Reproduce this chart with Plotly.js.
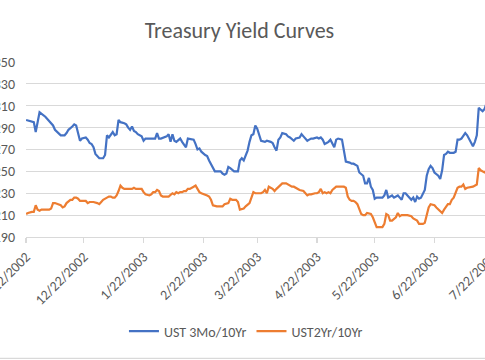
<!DOCTYPE html>
<html>
<head>
<meta charset="utf-8">
<script src="https://cdn.plot.ly/plotly-3.0.1.min.js"></script>
<style>
html, body { margin: 0; padding: 0; overflow: hidden; background: #fff; }
#chart { width: 520px; height: 360px; }
</style>
</head>
<body>
<div id="chart"></div>
<script>
const chartTitle = "Treasury Yield Curves";
const seriesNames = ["UST 3Mo/10Yr", "UST2Yr/10Yr"];

const blueDates = [
"2002-11-22","2002-11-25","2002-11-26","2002-11-27","2002-11-28","2002-11-29","2002-12-02","2002-12-04","2002-12-06","2002-12-07",
"2002-12-09","2002-12-10","2002-12-11","2002-12-12","2002-12-13","2002-12-14","2002-12-16","2002-12-17","2002-12-18","2002-12-19",
"2002-12-20","2002-12-21","2002-12-23","2002-12-24","2002-12-25","2002-12-26","2002-12-27","2002-12-28","2002-12-29","2002-12-30",
"2002-12-31","2003-01-01","2003-01-02","2003-01-03","2003-01-04","2003-01-05","2003-01-06","2003-01-07","2003-01-08","2003-01-09",
"2003-01-10","2003-01-12","2003-01-13","2003-01-14","2003-01-15","2003-01-16","2003-01-17","2003-01-18","2003-01-19","2003-01-21",
"2003-01-22","2003-01-23","2003-01-24","2003-01-27","2003-01-28","2003-01-29","2003-01-30","2003-01-31","2003-02-02","2003-02-03",
"2003-02-04","2003-02-05","2003-02-06","2003-02-07","2003-02-08","2003-02-09","2003-02-10","2003-02-11","2003-02-13","2003-02-14",
"2003-02-16","2003-02-17","2003-02-18","2003-02-19","2003-02-20","2003-02-21","2003-02-23","2003-02-24","2003-02-25","2003-02-26",
"2003-02-27","2003-02-28","2003-03-02","2003-03-03","2003-03-04","2003-03-05","2003-03-06","2003-03-07","2003-03-08","2003-03-09",
"2003-03-10","2003-03-11","2003-03-12","2003-03-13","2003-03-14","2003-03-15","2003-03-16","2003-03-17","2003-03-18","2003-03-19",
"2003-03-20","2003-03-21","2003-03-22","2003-03-23","2003-03-24","2003-03-26","2003-03-27","2003-03-29","2003-03-30","2003-03-31",
"2003-04-01","2003-04-02","2003-04-03","2003-04-04","2003-04-06","2003-04-07","2003-04-08","2003-04-10","2003-04-11","2003-04-13",
"2003-04-14","2003-04-15","2003-04-17","2003-04-18","2003-04-19","2003-04-20","2003-04-22","2003-04-23","2003-04-24","2003-04-25",
"2003-04-26","2003-04-27","2003-04-28","2003-04-29","2003-04-30","2003-05-01","2003-05-02","2003-05-03","2003-05-05","2003-05-06",
"2003-05-07","2003-05-09","2003-05-10","2003-05-11","2003-05-13","2003-05-14","2003-05-15","2003-05-16","2003-05-17","2003-05-18",
"2003-05-19","2003-05-20","2003-05-21","2003-05-22","2003-05-23","2003-05-25","2003-05-26","2003-05-27","2003-05-28","2003-05-29",
"2003-05-30","2003-05-31","2003-06-01","2003-06-03","2003-06-04","2003-06-05","2003-06-06","2003-06-07","2003-06-08","2003-06-09",
"2003-06-10","2003-06-11","2003-06-12","2003-06-13","2003-06-14","2003-06-15","2003-06-16","2003-06-17","2003-06-18","2003-06-19",
"2003-06-20","2003-06-21","2003-06-22","2003-06-24","2003-06-25","2003-06-26","2003-06-27","2003-06-28","2003-06-29","2003-06-30",
"2003-07-02","2003-07-03","2003-07-04","2003-07-05","2003-07-06","2003-07-07","2003-07-08","2003-07-09","2003-07-10","2003-07-11",
"2003-07-12","2003-07-13","2003-07-14","2003-07-15","2003-07-16","2003-07-17","2003-07-18","2003-07-19"
];
const blueValues = [
297,296,295,286,294,304,300,296,292,288,
284,283,283,283,285,288,291,293,292,284,
278,280,281,279,276,275,272,266,264,262,
262,262,265,283,281,284,286,283,284,297,
295,294,293,290,288,291,287,286,284,282,
278,280,280,280,280,285,280,280,281,282,
284,277,284,278,277,279,280,277,272,280,
279,279,275,270,271,268,265,264,260,257,
253,250,250,250,248,247,248,254,253,251,
250,250,250,260,262,260,265,269,277,283,
284,292,289,283,278,277,278,277,276,272,
269,279,281,285,284,282,281,278,280,281,
284,282,278,279,280,280,281,280,281,279,
275,276,277,279,276,272,279,280,279,269,
259,258,257,257,255,249,247,246,239,239,
244,236,233,225,226,226,226,228,233,226,
227,228,226,228,226,224,230,230,228,226,
224,226,222,227,225,226,229,233,246,252,
255,253,249,246,243,251,265,266,268,267,
267,268,279,279,280,282,285,283,280,277,
273,277,283,308,306,305,307,312
];

const orangeDates = [
"2002-11-22","2002-11-23","2002-11-25","2002-11-26","2002-11-27","2002-11-28","2002-11-29","2002-11-30","2002-12-02","2002-12-03",
"2002-12-04","2002-12-05","2002-12-06","2002-12-07","2002-12-09","2002-12-10","2002-12-11","2002-12-12","2002-12-13","2002-12-14",
"2002-12-15","2002-12-16","2002-12-17","2002-12-18","2002-12-19","2002-12-20","2002-12-21","2002-12-23","2002-12-24","2002-12-25",
"2002-12-26","2002-12-27","2002-12-29","2002-12-30","2002-12-31","2003-01-01","2003-01-03","2003-01-04","2003-01-05","2003-01-06",
"2003-01-07","2003-01-08","2003-01-09","2003-01-10","2003-01-11","2003-01-12","2003-01-14","2003-01-15","2003-01-16","2003-01-17",
"2003-01-18","2003-01-20","2003-01-21","2003-01-22","2003-01-23","2003-01-25","2003-01-26","2003-01-27","2003-01-28","2003-01-29",
"2003-01-30","2003-01-31","2003-02-01","2003-02-03","2003-02-04","2003-02-06","2003-02-07","2003-02-08","2003-02-09","2003-02-10",
"2003-02-11","2003-02-12","2003-02-13","2003-02-14","2003-02-15","2003-02-17","2003-02-18","2003-02-19","2003-02-20","2003-02-21",
"2003-02-23","2003-02-24","2003-02-25","2003-02-26","2003-02-27","2003-03-01","2003-03-03","2003-03-04","2003-03-05","2003-03-07",
"2003-03-08","2003-03-09","2003-03-11","2003-03-12","2003-03-13","2003-03-15","2003-03-16","2003-03-17","2003-03-18","2003-03-19",
"2003-03-20","2003-03-21","2003-03-23","2003-03-24","2003-03-25","2003-03-26","2003-03-27","2003-03-28","2003-03-30","2003-03-31",
"2003-04-01","2003-04-02","2003-04-03","2003-04-04","2003-04-06","2003-04-07","2003-04-09","2003-04-10","2003-04-11","2003-04-12",
"2003-04-13","2003-04-15","2003-04-16","2003-04-17","2003-04-18","2003-04-19","2003-04-21","2003-04-22","2003-04-23","2003-04-24",
"2003-04-25","2003-04-26","2003-04-27","2003-04-28","2003-04-29","2003-04-30","2003-05-02","2003-05-03","2003-05-04","2003-05-06",
"2003-05-07","2003-05-08","2003-05-09","2003-05-10","2003-05-11","2003-05-12","2003-05-13","2003-05-14","2003-05-15","2003-05-16",
"2003-05-17","2003-05-18","2003-05-20","2003-05-21","2003-05-22","2003-05-23","2003-05-24","2003-05-25","2003-05-26","2003-05-27",
"2003-05-28","2003-05-29","2003-05-30","2003-05-31","2003-06-01","2003-06-02","2003-06-03","2003-06-04","2003-06-05","2003-06-06",
"2003-06-08","2003-06-10","2003-06-11","2003-06-13","2003-06-14","2003-06-15","2003-06-16","2003-06-17","2003-06-18","2003-06-19",
"2003-06-20","2003-06-22","2003-06-23","2003-06-25","2003-06-26","2003-06-27","2003-06-28","2003-06-29","2003-06-30","2003-07-01",
"2003-07-02","2003-07-03","2003-07-04","2003-07-05","2003-07-06","2003-07-07","2003-07-08","2003-07-09","2003-07-11","2003-07-12",
"2003-07-14","2003-07-15","2003-07-16","2003-07-17","2003-07-18","2003-07-19"
];
const orangeValues = [
211,212,213,213,219,215,214,215,215,215,
215,216,221,221,220,219,217,218,221,223,
224,224,226,226,225,223,223,223,221,222,
222,222,221,220,222,224,226,227,227,226,
226,228,232,237,235,234,234,234,234,235,
234,234,234,231,229,228,229,231,231,233,
232,228,227,227,227,230,229,231,230,231,
231,232,232,234,234,236,237,234,231,230,
229,228,227,224,219,218,218,218,220,221,
225,224,224,222,215,216,218,220,221,226,
231,230,230,230,231,233,230,236,234,232,
234,236,238,239,239,238,236,236,235,234,
233,232,230,228,229,229,230,230,231,234,
230,231,230,231,230,233,236,236,236,236,
235,227,224,223,223,222,220,215,211,210,
210,212,211,208,203,199,199,199,199,202,
211,210,205,205,207,208,212,209,210,210,
210,209,207,205,202,202,202,203,209,217,
220,219,217,214,212,215,218,220,220,224,
226,230,235,236,236,238,234,235,236,236,
238,253,251,250,249,251
];

const yTicks = [190, 210, 230, 250, 270, 290, 310, 330, 350];
const xTickStart = "2002-11-22";
const xRange = ["2002-11-21 23:00", "2003-07-25"];

const font = "Carlito, Calibri, Lato, 'Open Sans', sans-serif";
const textColor = "#595959";
const gridColor = "#D9D9D9";

const traces = [
  { x: blueDates, y: blueValues, name: seriesNames[0], type: "scatter", mode: "lines",
    line: { color: "#4472C4", width: 2.2 } },
  { x: orangeDates, y: orangeValues, name: seriesNames[1], type: "scatter", mode: "lines",
    line: { color: "#ED7D31", width: 2.2 } }
];

const layout = {
  width: 520, height: 360,
  margin: { l: 26, r: 22, t: 62, b: 123 },
  paper_bgcolor: "#fff", plot_bgcolor: "#fff",
  font: { family: font, color: textColor, size: 14 },
  title: { text: chartTitle, font: { family: font, size: 22, color: textColor },
           xref: "container", x: 0.4605, xanchor: "center", yref: "container", y: 0.915, yanchor: "middle" },
  showlegend: true,
  legend: { orientation: "h", x: 0.466, xanchor: "center", y: -0.54, yanchor: "middle",
            font: { family: font, size: 14, color: textColor }, bgcolor: "rgba(0,0,0,0)" },
  xaxis: {
    type: "date", range: xRange, tick0: xTickStart, dtick: "M1", tickformat: "%-m/%-d/%Y",
    tickangle: -45, showgrid: false, showline: true, linecolor: gridColor, linewidth: 1.2,
    ticks: "outside", ticklen: 5, tickcolor: gridColor, tickwidth: 1.2, ticklabeloverflow: "allow",
    tickfont: { family: font, size: 14, color: textColor }, zeroline: false, fixedrange: true
  },
  yaxis: {
    range: [190, 350], tickvals: yTicks, showgrid: true, gridcolor: gridColor, gridwidth: 1.2,
    zeroline: false, showline: false, ticks: "", ticklabelstandoff: 10, ticklabeloverflow: "allow",
    tickfont: { family: font, size: 14, color: textColor }, fixedrange: true
  },
  shapes: [
    { type: "line", xref: "paper", yref: "paper", x0: -0.1, x1: 1.1, y0: -0.693, y1: -0.693,
      line: { color: gridColor, width: 1.2 } }
  ]
};

Plotly.newPlot("chart", traces, layout, { displayModeBar: false, staticPlot: true });
</script>
</body>
</html>
